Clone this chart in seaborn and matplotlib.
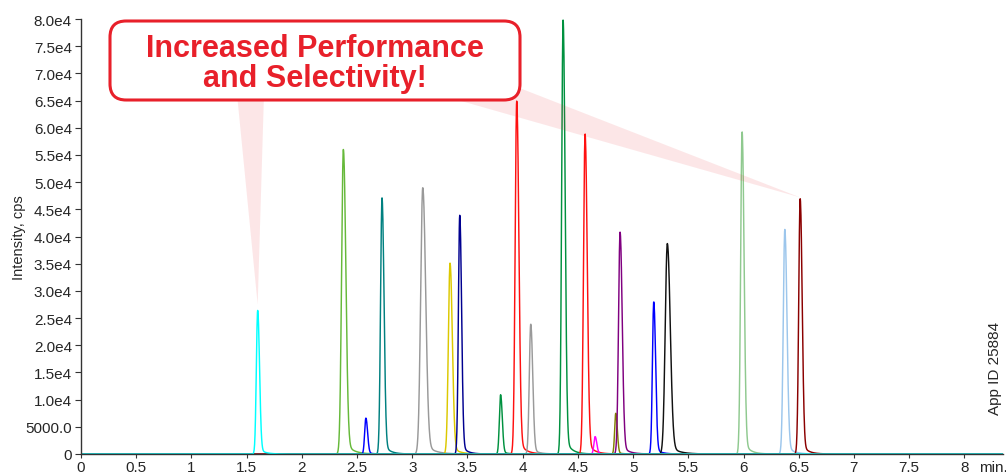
import numpy as np
import pandas as pd
import seaborn as sns
import matplotlib.pyplot as plt
from matplotlib.patches import FancyBboxPatch, Polygon

sns.set_style("ticks")
plt.rcParams['font.family'] = ['Liberation Sans', 'DejaVu Sans']

# peak table: retention time (min), apex intensity (cps), width (min)
compounds = ["p01", "p02", "p03", "p04", "p05", "p06", "p07", "p08", "p09", "p10",
             "p11", "p12", "p13", "p14", "p15", "p16", "p17", "p18", "p19", "p20"]
ret_time = [1.60, 2.376, 2.58, 2.726, 3.095, 3.342, 3.43, 3.80, 3.946, 4.073,
            4.366, 4.565, 4.656, 4.843, 4.882, 5.187, 5.31, 5.987, 6.374, 6.513]
apex = [26400, 56000, 6600, 47100, 49000, 35100, 43900, 10900, 64900, 23900,
        79800, 58900, 3200, 7500, 40800, 28000, 38700, 59300, 41300, 47000]
width = [0.012, 0.016, 0.011, 0.013, 0.019, 0.015, 0.012, 0.011, 0.014, 0.013,
         0.013, 0.014, 0.011, 0.010, 0.014, 0.012, 0.019, 0.013, 0.014, 0.013]
colors = ["#00ffff", "#66b93a", "#0000ff", "#008080", "#999999", "#dcc800", "#000090",
          "#00913f", "#ff1010", "#9a9a9a", "#00913f", "#ff1010", "#ff00ff", "#808000",
          "#800080", "#0000ff", "#111111", "#8fc98f", "#9cc6ec", "#8b0000"]

x_ticks = [0, 0.5, 1, 1.5, 2, 2.5, 3, 3.5, 4, 4.5, 5, 5.5, 6, 6.5, 7, 7.5, 8]
x_ticklabels = ["0", "0.5", "1", "1.5", "2", "2.5", "3", "3.5", "4", "4.5", "5",
                "5.5", "6", "6.5", "7", "7.5", "8"]
y_ticks = list(range(0, 80001, 5000))
y_ticklabels = ["0", "5000.0", "1.0e4", "1.5e4", "2.0e4", "2.5e4", "3.0e4", "3.5e4", "4.0e4",
                "4.5e4", "5.0e4", "5.5e4", "6.0e4", "6.5e4", "7.0e4", "7.5e4", "8.0e4"]

callout = ["Increased Performance", "and Selectivity!"]
red = "#e8202a"

# build the traces (slightly tailing peaks on a flat baseline)
t = np.arange(0, 8.35, 0.002)
frames = []
for name, rt, h, s in zip(compounds, ret_time, apex, width):
    d = t - rt
    sig = np.where(d < 0, s, 1.35 * s)
    y = h * np.exp(-0.5 * (d / sig) ** 2)
    tail = np.where(d > 0, 0.05 * h * (1 - np.exp(-(d / s) ** 2)) * np.exp(-d / (4 * s)), 0)
    frames.append(pd.DataFrame({"time": t, "intensity": y + tail, "compound": name}))
traces = pd.concat(frames)

fig = plt.figure(figsize=(10.06, 4.77), dpi=100)
ax = fig.add_axes([81/1006, 22/477, 922/1006, 435/477])

# cyan trace last so its baseline sits on top, like in the original
order = compounds[1:] + compounds[:1]
sns.lineplot(data=traces, x="time", y="intensity", hue="compound", hue_order=order,
             palette=dict(zip(compounds, colors)), estimator=None, sort=False,
             linewidth=1.05, legend=False, ax=ax)

ax.set_xlim(0, 8.35)
ax.set_ylim(0, 80000)
ax.set_xticks(x_ticks)
ax.set_xticklabels(x_ticklabels)
ax.set_yticks(y_ticks)
ax.set_yticklabels(y_ticklabels)
ax.tick_params(axis="x", length=3, pad=1.5, labelsize=11, color="#333333")
ax.tick_params(axis="y", length=4.5, pad=2, labelsize=11, color="#333333")
ax.set_xlabel("")
ax.set_ylabel("Intensity, cps", fontsize=10.5, labelpad=-0.5)
sns.despine(ax=ax)
for sp in ["left", "bottom"]:
    ax.spines[sp].set_color("#333333")
    ax.spines[sp].set_linewidth(1.0)

ax.annotate("min.", xy=(8.13, 0), xycoords="data", xytext=(0, -12.3), textcoords="offset points",
            ha="left", va="baseline", fontsize=11)
fig.text(995/1006, 1 - 368/477, "App ID 25884", rotation=90, ha="center", va="center", fontsize=11)

# pointer wedges from the callout to the first and last peaks
fig.canvas.draw()
def to_fig(px, py):
    return (px / 1006, 1 - py / 477)

def apex_fig(i, lift=6):
    dx, dy = ax.transData.transform((ret_time[i], apex[i]))
    return fig.transFigure.inverted().transform((dx, dy + lift))

w1 = Polygon([to_fig(237, 95), to_fig(264, 95), apex_fig(0)], closed=True,
             transform=fig.transFigure, facecolor=red, alpha=0.11, edgecolor="none", zorder=1)
w2 = Polygon([to_fig(440, 58), to_fig(440, 96), apex_fig(19, 1)], closed=True,
             transform=fig.transFigure, facecolor=red, alpha=0.11, edgecolor="none", zorder=1)
fig.patches.extend([w1, w2])

box = FancyBboxPatch((110/1006, 1 - 101/477), 410/1006, 79/477,
                     boxstyle="round,pad=0,rounding_size=0.016", mutation_aspect=1006/477,
                     transform=fig.transFigure, facecolor="white", edgecolor=red,
                     linewidth=2.2, zorder=2)
fig.patches.append(box)
fig.text(315/1006, 1 - 57/477, callout[0], color=red, fontsize=22, fontweight="bold",
         ha="center", va="baseline", zorder=3)
fig.text(315/1006, 1 - 87/477, callout[1], color=red, fontsize=22, fontweight="bold",
         ha="center", va="baseline", zorder=3)

fig.savefig("out.png", dpi=100)
